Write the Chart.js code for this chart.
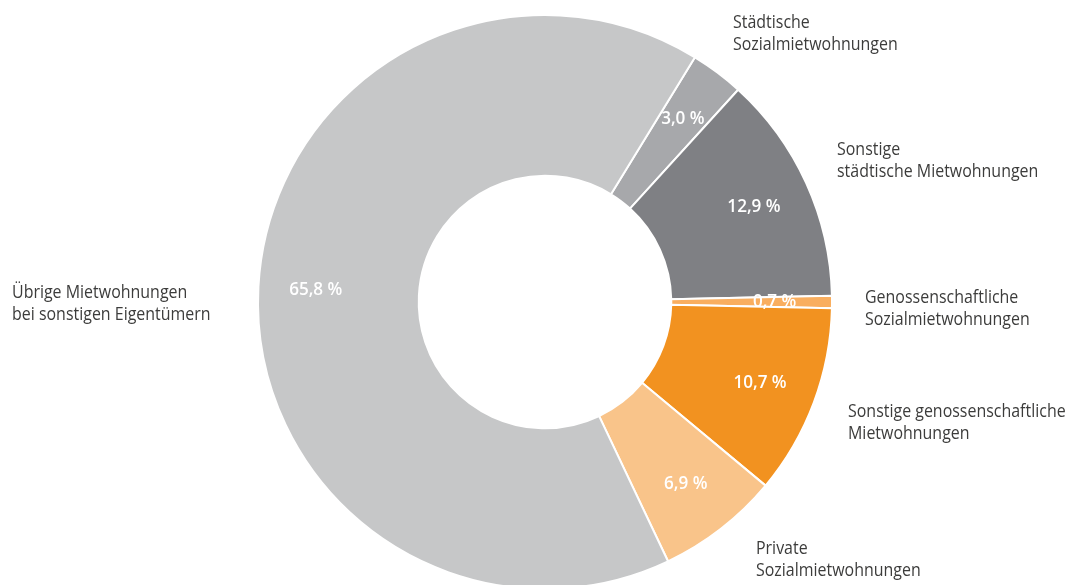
<!DOCTYPE html>
<html lang="de">
<head>
<meta charset="utf-8">
<title>Mietwohnungen nach Eigentümer</title>
<script src="https://cdn.jsdelivr.net/npm/chart.js@4.4.1/dist/chart.umd.min.js"></script>
<style>
  html, body { margin: 0; padding: 0; background: #fff; overflow: hidden; }
  #wrap { position: absolute; left: 0; top: 0; width: 1075px; height: 604px; }
</style>
</head>
<body>
<div id="wrap"><canvas id="donut"></canvas></div>
<script>
// Categories, clockwise from the top right
const categories = [
    ['Städtische', 'Sozialmietwohnungen'],
    ['Sonstige', 'städtische Mietwohnungen'],
    ['Genossenschaftliche', 'Sozialmietwohnungen'],
    ['Sonstige genossenschaftliche', 'Mietwohnungen'],
    ['Private', 'Sozialmietwohnungen'],
    ['Übrige Mietwohnungen', 'bei sonstigen Eigentümern'],
];
const shares = [3.0, 12.9, 0.7, 10.7, 6.9, 65.8]; // percent
const sliceColors = ['#a7a8ab', '#7f8084', '#f9ae5f', '#f29220', '#f9c48a', '#c6c7c8'];

// where each category caption sits, relative to the centre of the ring
const captionOffsets = [
    [188, -274], [292, -147], [320, 1], [303, 115], [211, 252], [-533, -4],
];

const TEXT_COLOR = '#3c3c3b';
const FONT = '"Open Sans", "Noto Sans", sans-serif';

const formatShare = (v) => v.toFixed(1).replace('.', ',') + ' %';

function drawScaledText(ctx, text, x, y, sx) {
    ctx.save();
    ctx.translate(x, y);
    ctx.scale(sx, 1);
    ctx.fillText(text, 0, 0);
    ctx.restore();
}

const sliceLabels = {
    id: 'sliceLabels',
    afterDatasetsDraw(chart) {
        const ctx = chart.ctx;
        const arcs = chart.getDatasetMeta(0).data;

        // percentages inside the ring
        ctx.save();
        ctx.fillStyle = '#ffffff';
        ctx.font = '600 18px ' + FONT;
        ctx.textAlign = 'center';
        ctx.textBaseline = 'middle';
        arcs.forEach((arc, i) => {
            const p = arc.getProps(['x', 'y', 'startAngle', 'endAngle', 'outerRadius'], true);
            const mid = (p.startAngle + p.endAngle) / 2;
            const r = p.outerRadius * 0.8;
            drawScaledText(ctx, formatShare(shares[i]), p.x + Math.cos(mid) * r, p.y + Math.sin(mid) * r, 0.95);
        });
        ctx.restore();

        // category captions
        const cx = arcs[0].x;
        const cy = arcs[0].y;
        ctx.save();
        ctx.fillStyle = TEXT_COLOR;
        ctx.font = '19px ' + FONT;
        ctx.textAlign = 'left';
        ctx.textBaseline = 'alphabetic';
        categories.forEach((lines, i) => {
            const [dx, dy] = captionOffsets[i];
            lines.forEach((line, j) => {
                drawScaledText(ctx, line, cx + dx, cy + dy + j * 21.5, 0.84);
            });
        });
        ctx.restore();
    },
};

new Chart(document.getElementById('donut'), {
    type: 'doughnut',
    data: {
        labels: categories.map((c) => c.join(' ')),
        datasets: [
            {
                data: shares,
                backgroundColor: sliceColors,
                borderColor: '#ffffff',
                borderWidth: 2,
                hoverOffset: 0,
            },
        ],
    },
    options: {
        responsive: true,
        maintainAspectRatio: false,
        animation: false,
        rotation: 31.5,
        cutout: '44%',
        layout: { padding: { left: 15, right: 0, top: 14, bottom: 14 } },
        plugins: {
            legend: { display: false },
            tooltip: { enabled: false },
        },
    },
    plugins: [sliceLabels],
});
</script>
</body>
</html>
